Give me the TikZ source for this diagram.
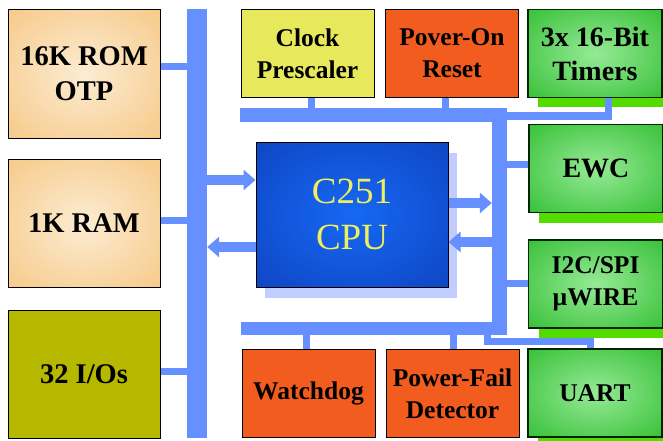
\documentclass[tikz,border=0pt]{standalone}
\usepackage{fontspec}
\setmainfont{Liberation Serif}
\usetikzlibrary{arrows.meta,shadows}

% Colores
\definecolor{azulbus}{RGB}{102,143,255}
\definecolor{memIn}{RGB}{252,236,210}
\definecolor{memOut}{RGB}{244,188,108}
\definecolor{verdeIn}{RGB}{150,234,150}
\definecolor{verdeOut}{RGB}{18,176,18}
\definecolor{cpuIn}{RGB}{22,104,244}
\definecolor{cpuOut}{RGB}{12,56,176}
\definecolor{amarillo}{RGB}{232,232,92}
\definecolor{naranja}{RGB}{242,92,30}
\definecolor{oliva}{RGB}{182,184,0}
\definecolor{sombraverde}{RGB}{82,220,0}
\definecolor{sombracpu}{RGB}{194,205,255}
\definecolor{textocpu}{RGB}{238,238,96}
\definecolor{bordeverde}{RGB}{0,36,0}

% Degradados desde el centro
\pgfdeclareradialshading{memglow}{\pgfpointorigin}{color(0bp)=(memIn); color(50bp)=(memOut)}
\pgfdeclareradialshading{verdeglow}{\pgfpointorigin}{color(0bp)=(verdeIn); color(50bp)=(verdeOut)}
\pgfdeclareradialshading{cpuglow}{\pgfpointorigin}{color(0bp)=(cpuIn); color(50bp)=(cpuOut)}

\begin{document}
\begin{tikzpicture}[x=1pt, y=-1pt,
    caja/.style={draw=black, line width=1pt, inner sep=0pt, align=center,
      font=\bfseries\fontsize{25.5}{32}\selectfont},
    bloqueizq/.style={caja, minimum width=152pt, minimum height=128pt,
      font=\bfseries\fontsize{28.5}{35}\selectfont},
    memoria/.style={bloqueizq, shading=memglow},
    periferico/.style={caja, draw=bordeverde, line width=1.5pt, shading=verdeglow,
      minimum width=134pt, minimum height=88pt,
      drop shadow={shadow xshift=10pt, shadow yshift=-10pt, fill=sombraverde, opacity=1}},
    sistema/.style={caja, fill=naranja, minimum width=133pt, minimum height=88pt},
    barra/.style={fill=azulbus, inner sep=0pt},
    enlace/.style={draw=azulbus, line width=7pt},
    flecha/.style={draw=azulbus, line width=10pt, -{Triangle[width=20pt,length=12pt]}}]
  \useasboundingbox (0,0) rectangle (663,441);

  % Buses
  \node[barra, minimum width=20pt, minimum height=429pt] (busL) at (197,223.5) {};
  \node[barra, minimum width=267pt, minimum height=14pt] (busT) at (373.5,115) {};
  \node[barra, minimum width=15pt, minimum height=227pt] (busR) at (499.5,221.5) {};
  \node[barra, minimum width=266pt, minimum height=13pt] (busB) at (374,328.5) {};
  \coordinate (uartTap) at (487,335);

  % Memorias y puertos
  \node[memoria] (rom) at (84,74) {16K ROM\\OTP};
  \node[memoria] (ram) at (84,223.5) {1K RAM};
  \node[bloqueizq, fill=oliva] (io) at (84,374) {32 I/Os};

  % Bloques superiores e inferiores
  \node[sistema, fill=amarillo] (clk) at (307.5,53.5) {Clock\\Prescaler};
  \node[sistema] (por) at (452,53.5) {Pover-On\\Reset};
  \node[sistema] (wd) at (308.5,393.5) {Watchdog};
  \node[sistema] (pf) at (452.5,393.5) {Power-Fail\\Detector};

  % Perifericos
  \node[periferico, font=\bfseries\fontsize{28}{34}\selectfont] (tmr) at (595,53.5) {3x 16-Bit\\Timers};
  \node[periferico, font=\bfseries\fontsize{28}{34}\selectfont] (ewc) at (596,168.5) {EWC};
  \node[periferico] (i2c) at (595.5,284) {I2C/SPI\\µWIRE};
  \node[periferico] (uart) at (595,393) {UART};

  % CPU
  \node[caja, shading=cpuglow, minimum width=192pt, minimum height=145pt,
    text=textocpu, font=\fontsize{37}{46}\selectfont,
    drop shadow={shadow xshift=9pt, shadow yshift=-11pt, fill=sombracpu, opacity=1}]
    (cpu) at (352,214.5) {C251\\CPU};

  % Enlaces al bus
  \draw[enlace] ([yshift=7pt]rom.east) -- ([yshift=7pt]rom.east -| busL.west);
  \draw[enlace] ([yshift=3pt]ram.east) -- ([yshift=3pt]ram.east -| busL.west);
  \draw[enlace] ([yshift=2.5pt]io.east) -- ([yshift=2.5pt]io.east -| busL.west);
  \draw[enlace] ([xshift=3.5pt]clk.south) -- ([xshift=3.5pt]clk.south |- busT.north);
  \draw[enlace] ([xshift=-7pt]por.south) -- ([xshift=-7pt]por.south |- busT.north);
  \draw[enlace] ([xshift=13.5pt]tmr.south) |- ([yshift=-1pt]busT.east);
  \draw[enlace] ([yshift=4pt]ewc.west) -- ([yshift=4pt]ewc.west -| busR.east);
  \draw[enlace] ([yshift=1pt]i2c.west) -- ([yshift=1pt]i2c.west -| busR.east);
  \draw[enlace] ([xshift=-2pt]wd.north) -- ([xshift=-2pt]wd.north |- busB.south);
  \draw[enlace] ([xshift=0.5pt]pf.north) -- ([xshift=0.5pt]pf.north |- busB.south);
  \draw[enlace] (uartTap) -- ++(0,6.5) -| ([xshift=-5pt]uart.north);

  % Flechas de datos de la CPU
  \draw[flecha] ([yshift=34.5pt]cpu.west -| busL.east) -- ([yshift=34.5pt]cpu.west);
  \draw[flecha] ([yshift=-32.5pt]cpu.west) -- ([yshift=-32.5pt]cpu.west -| busL.east);
  \draw[flecha] ([yshift=11.5pt]cpu.east) -- ([yshift=11.5pt]cpu.east -| busR.west);
  \draw[flecha] ([yshift=-27.5pt]cpu.east -| busR.west) -- ([yshift=-27.5pt]cpu.east);
\end{tikzpicture}
\end{document}
